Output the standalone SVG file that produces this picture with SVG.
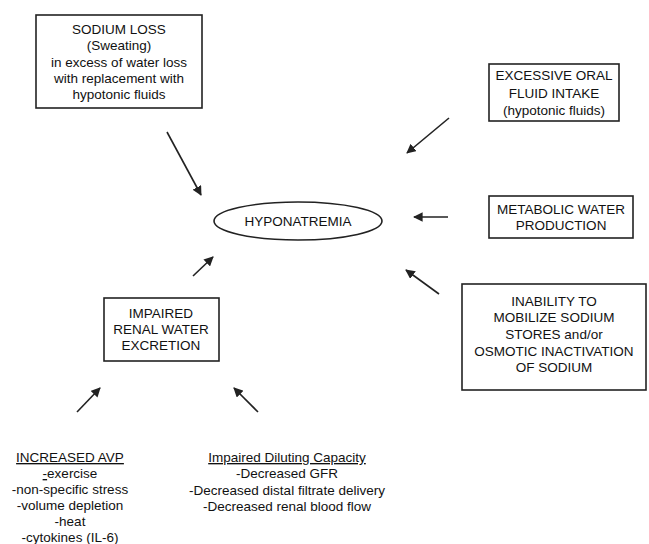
<svg xmlns="http://www.w3.org/2000/svg" width="649" height="544" viewBox="0 0 649 544">
<defs>
<style>
text{font-family:"Liberation Sans",Arial,sans-serif;font-size:13.5px;fill:#111;text-anchor:middle}
.box{fill:#fff;stroke:#222;stroke-width:1.6}
.c line{stroke:#222;stroke-width:1.6;marker-end:url(#ah)}
</style>
<marker id="ah" viewBox="0 0 10 10" refX="9" refY="5" markerWidth="6" markerHeight="6" orient="auto" markerUnits="strokeWidth">
<path d="M0,0 L10,5 L0,10 z" fill="#222"/>
</marker>
</defs>
<rect width="649" height="544" fill="#fff"/>
<g id="sodium-loss">
<rect class="box" x="36" y="15" width="166" height="93"/>
<text x="119" y="34">SODIUM LOSS</text>
<text x="119" y="50">(Sweating)</text>
<text x="119" y="67">in excess of water loss</text>
<text x="119" y="83">with replacement with</text>
<text x="119" y="99">hypotonic fluids</text>
</g>
<g id="oral-intake">
<rect class="box" x="489" y="64" width="130" height="57"/>
<text x="554" y="80">EXCESSIVE ORAL</text>
<text x="554" y="98">FLUID INTAKE</text>
<text x="554" y="115">(hypotonic fluids)</text>
</g>
<g id="hyponatremia">
<ellipse cx="298" cy="221" rx="84" ry="19" fill="#fff" stroke="#222" stroke-width="1.6"/>
<text x="298" y="226">HYPONATREMIA</text>
</g>
<g id="metabolic">
<rect class="box" x="489" y="196" width="144" height="42"/>
<text x="561" y="214">METABOLIC WATER</text>
<text x="561" y="230">PRODUCTION</text>
</g>
<g id="inability">
<rect class="box" x="462" y="284" width="184" height="106"/>
<text x="554" y="306">INABILITY TO</text>
<text x="554" y="322">MOBILIZE SODIUM</text>
<text x="554" y="339">STORES and/or</text>
<text x="554" y="356">OSMOTIC INACTIVATION</text>
<text x="554" y="372">OF SODIUM</text>
</g>
<g id="renal">
<rect class="box" x="104" y="298" width="115" height="63"/>
<text x="161" y="318">IMPAIRED</text>
<text x="161" y="334">RENAL WATER</text>
<text x="161" y="350">EXCRETION</text>
</g>
<g id="avp">
<text x="70" y="462" text-decoration="underline">INCREASED AVP</text>
<text x="70" y="478"><tspan text-decoration="underline">-</tspan>exercise</text>
<text x="70" y="494">-non-specific stress</text>
<text x="70" y="510">-volume depletion</text>
<text x="70" y="526">-heat</text>
<text x="70" y="542">-cytokines (IL-6)</text>
</g>
<g id="diluting">
<text x="287" y="462" text-decoration="underline">Impaired Diluting Capacity</text>
<text x="287" y="478">-Decreased GFR</text>
<text x="287" y="495">-Decreased distal filtrate delivery</text>
<text x="287" y="511">-Decreased renal blood flow</text>
</g>
<g id="connectors" class="c">
<line x1="167" y1="132" x2="201" y2="195"/>
<line x1="449" y1="118" x2="407" y2="153"/>
<line x1="448" y1="217" x2="414" y2="217"/>
<line x1="439" y1="294" x2="406" y2="270"/>
<line x1="193" y1="276" x2="213" y2="257"/>
<line x1="77" y1="412" x2="100" y2="388"/>
<line x1="258" y1="412" x2="234" y2="388"/>
</g>
</svg>
